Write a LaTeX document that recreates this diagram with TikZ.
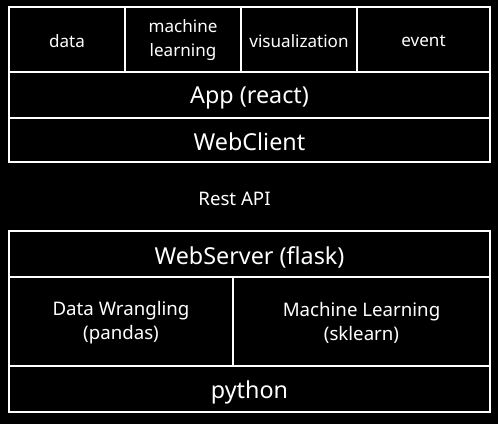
\documentclass[tikz,border=0pt]{standalone}
\usepackage{fontspec}
\setmainfont{Noto Sans}
\usepackage{tikz}

\tikzset{
  cell/.style = {draw=white, line width=1.5pt},
  small/.style = {text=white, font=\fontsize{12.8pt}{18pt}\selectfont, align=center},
  mid/.style = {text=white, font=\fontsize{14pt}{18pt}\selectfont, align=center},
  big/.style = {text=white, font=\fontsize{17.5pt}{20pt}\selectfont}
}

\begin{document}
\begin{tikzpicture}[x=0.75pt, y=-0.75pt]
\fill[black] (0,0) rectangle (498,424);

% client side
\draw[cell] (9,7) rectangle (490,162);
\draw[cell] (9,72)--(490,72);
\draw[cell] (9,118)--(490,118);
\draw[cell] (125,7)--(125,72);
\draw[cell] (241,7)--(241,72);
\draw[cell] (357,7)--(357,72);
\node[small] (data) at (67,41) {data};
\node[small] (ml) at (183,40) {machine\\learning};
\node[small] (vis) at (299,41) {visualization};
\node[small] (event) at (423.5,41) {event};
\node[big] (app) at (249.5,98) {App (react)};
\node[big] (client) at (249.5,142) {WebClient};

\node[mid] (rest) at (234.5,199) {Rest API};

% server side
\draw[cell] (9,231) rectangle (490,412);
\draw[cell] (9,277)--(490,277);
\draw[cell] (9,366)--(490,366);
\draw[cell] (233,277)--(233,366);
\node[big] (server) at (249.5,257) {WebServer (flask)};
\node[mid] (wrangle) at (121,323) {Data Wrangling\\(pandas)};
\node[mid] (learn) at (361.5,323) {Machine Learning\\(sklearn)};
\node[big] (python) at (249.5,392) {python};
\end{tikzpicture}
\end{document}
